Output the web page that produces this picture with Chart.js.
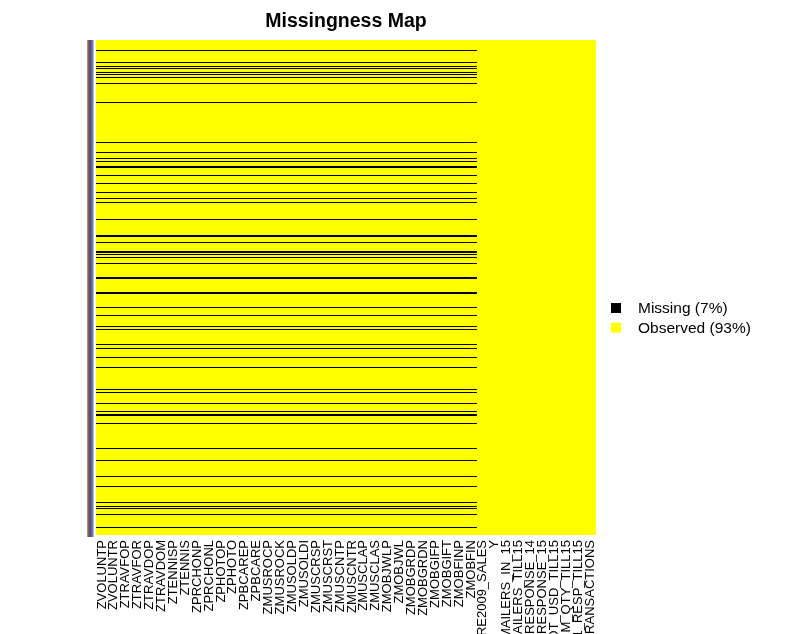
<!DOCTYPE html>
<html>
<head>
<meta charset="utf-8">
<script src="https://cdn.jsdelivr.net/npm/chart.js@4.4.1/dist/chart.umd.min.js"></script>
<style>
html,body{margin:0;padding:0;background:#ffffff;}
#c{display:block;}
</style>
</head>
<body>
<canvas id="c" width="796" height="634"></canvas>
<script>
// ---- data ----
const columns = [
  'ZVOLUNTP','ZVOLUNTR','ZTRAVFOP','ZTRAVFOR','ZTRAVDOP','ZTRAVDOM','ZTENNISP','ZTENNIS',
  'ZPRCHONP','ZPRCHONL','ZPHOTOP','ZPHOTO','ZPBCAREP','ZPBCARE','ZMUSROCP','ZMUSROCK',
  'ZMUSOLDP','ZMUSOLDI','ZMUSCRSP','ZMUSCRST','ZMUSCNTP','ZMUSCNTR','ZMUSCLAP','ZMUSCLAS',
  'ZMOBJWLP','ZMOBJWL','ZMOBGRDP','ZMOBGRDN','ZMOBGIFP','ZMOBGIFT','ZMOBFINP','ZMOBFIN',
  'RE2009_SALES','Y','MAILERS_IN_15','AILERS_TILL15','RESPONSE_14','RESPONSE_15',
  'OT_USD_TILL15','M_QTY_TILL15','1_RESP_TILL15','RANSACTIONS'
];
const nRows = 495;              // rows (observations), top to bottom
const missingColumnCount = 32;  // columns that contain missing values (the Z* columns)
const missingRows = [
  10,22,26,28,32,34,37,43,62,102,112,118,121,126,127,135,143,152,158,162,179,195,196,
  202,211,212,214,217,223,237,238,252,253,267,275,286,289,304,308,317,327,349,352,363,
  371,374,375,383,408,420,436,446,462,466,468,474,487
];
const seriesNames = ['Missing','Observed'];
const seriesShares = ['7%','93%'];
const seriesColors = ['#000000','#ffff00'];

// ---- build library data ----
const rowLabels = Array.from({length: nRows}, (_, i) => String(i + 1));
const missSet = new Set(missingRows);
const missingData = rowLabels.map((_, r) => missSet.has(r) ? [0, missingColumnCount] : null);
const observedData = rowLabels.map(() => [0, columns.length]);

const FONT = '"Liberation Sans", Arial, Helvetica, sans-serif';

const rowNameStrip = {
  id: 'rowNameStrip',
  afterDraw(chart) {
    const {ctx, chartArea: a} = chart;
    const x0 = a.left - 9, x1 = a.left - 2;
    const g = ctx.createLinearGradient(x0, 0, x1, 0);
    g.addColorStop(0, '#c8a8a8');
    g.addColorStop(0.25, '#8a4a50');
    g.addColorStop(0.5, '#4a5272');
    g.addColorStop(0.78, '#6a7ea2');
    g.addColorStop(1, '#c4d8ee');
    ctx.save();
    ctx.fillStyle = g;
    ctx.fillRect(x0, a.top, x1 - x0, a.bottom - a.top + 2);
    ctx.restore();
  }
};

const sideLegend = {
  id: 'sideLegend',
  afterDraw(chart) {
    const {ctx, chartArea: a} = chart;
    ctx.save();
    ctx.font = '15.5px ' + FONT;
    ctx.textBaseline = 'middle';
    ctx.textAlign = 'left';
    chart.data.datasets.forEach((ds, i) => {
      const y = a.top + 268 + i * 19.6;
      ctx.fillStyle = ds.backgroundColor;
      ctx.fillRect(a.right + 15, y - 5, 10, 10);
      ctx.fillStyle = '#000000';
      ctx.fillText(ds.label + ' (' + seriesShares[i] + ')', a.right + 42, y + 1);
    });
    ctx.restore();
  }
};

new Chart(document.getElementById('c'), {
  type: 'bar',
  data: {
    labels: rowLabels,
    datasets: [
      {
        label: seriesNames[0], data: missingData, backgroundColor: seriesColors[0],
        grouped: false, barPercentage: 1, categoryPercentage: 1,
        borderWidth: 0, inflateAmount: 0
      },
      {
        label: seriesNames[1], data: observedData, backgroundColor: seriesColors[1],
        grouped: false, barPercentage: 1, categoryPercentage: 1,
        borderWidth: 0, inflateAmount: 0.5
      }
    ]
  },
  options: {
    indexAxis: 'y',
    responsive: false,
    animation: false,
    events: [],
    layout: {padding: {left: 96, right: 200, top: 0, bottom: 0}},
    scales: {
      x: {
        type: 'linear', position: 'bottom', min: 0, max: columns.length,
        grid: {display: false, drawTicks: false},
        border: {display: false},
        afterBuildTicks: s => { s.ticks = columns.map((_, i) => ({value: i + 0.5})); },
        afterFit: s => { s.height = 99; },
        ticks: {
          autoSkip: false, minRotation: 90, maxRotation: 90, padding: 5,
          color: '#000000', font: {family: FONT, size: 13},
          callback: (v, i) => columns[i]
        }
      },
      y: {type: 'category', display: false}
    },
    plugins: {
      legend: {display: false},
      tooltip: {enabled: false},
      title: {
        display: true, text: 'Missingness Map', fullSize: false,
        color: '#000000', font: {family: FONT, size: 19.5, weight: 'bold', lineHeight: 1.2},
        padding: {top: 9.6, bottom: 7}
      }
    }
  },
  plugins: [rowNameStrip, sideLegend]
});
</script>
</body>
</html>
